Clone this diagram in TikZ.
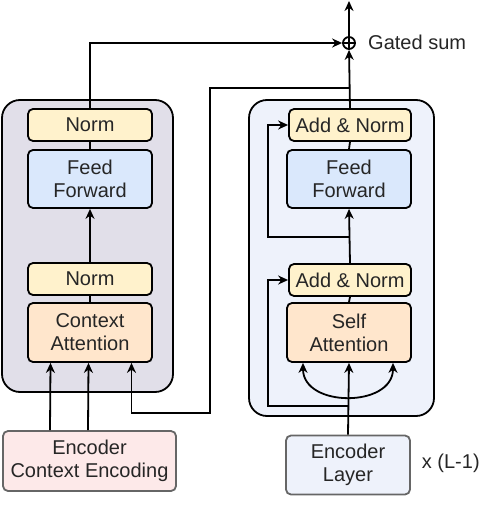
\documentclass[tikz,border=0pt]{standalone}
\usepackage{fontspec}
\setmainfont{Liberation Sans}
\usetikzlibrary{arrows.meta}
\definecolor{normfill}{HTML}{FFF2CC}
\definecolor{fffill}{HTML}{DAE8FC}
\definecolor{attfill}{HTML}{FFE6CC}
\definecolor{decbg}{HTML}{E1DFE9}
\definecolor{encbg}{HTML}{EEF2FB}
\definecolor{ctxfill}{HTML}{FDE9E9}

\begin{document}
\begin{tikzpicture}[x=1pt, y=-1pt, line width=1.8pt,
  every node/.style={font=\fontsize{20}{23}\selectfont, text=black!85},
  block/.style={draw, rounded corners=5pt, align=center, inner sep=0pt, minimum width=124pt},
  normbox/.style={block, fill=normfill, minimum height=32pt},
  ffbox/.style={block, fill=fffill, minimum height=58pt},
  attbox/.style={block, fill=attfill, minimum height=59pt},
  inbox/.style={block, draw=black!60, minimum height=59pt},
  layerbg/.style={draw, rounded corners=18pt},
  tip/.tip={Stealth[length=10pt,width=9pt]},
  arr/.style={-tip}]
  \useasboundingbox (0,0) rectangle (482,526);
  \draw[layerbg, fill=decbg] (2,100) rectangle (173,392);
  \draw[layerbg, fill=encbg] (249,100) rectangle (434,416);

  \node[normbox] (lnorm) at (90,125) {Norm};
  \node[ffbox] (lff) at (90,179) {Feed\\Forward};
  \node[normbox] (lnorm2) at (90,279) {Norm};
  \node[attbox] (lca) at (90,332.5) {Context\\Attention};
  \node[inbox, fill=ctxfill, minimum width=173pt, minimum height=60pt] (ctx) at (89.5,461) {Encoder\\Context Encoding};

  \node[normbox, minimum width=122pt] (rnorm) at (350,125) {Add \& Norm};
  \node[ffbox] (rff) at (349,179) {Feed\\Forward};
  \node[normbox, minimum width=122pt] (rnorm2) at (350,280) {Add \& Norm};
  \node[attbox] (rsa) at (349,332.5) {Self\\Attention};
  \node[inbox, fill=encbg] (enc) at (348,465) {Encoder\\Layer};
  \node[anchor=west, inner sep=0pt] (times) at (421,463) {x (L-1)};

  \node[circle, draw, inner sep=0pt, minimum size=12pt] (sum) at (349,43) {};
  \draw (sum.north) -- (sum.south) (sum.west) -- (sum.east);
  \node[anchor=west] (sumlabel) at (364,42) {Gated sum};
  \coordinate (top) at (349,1);
  \coordinate (split) at (349,88);
  \coordinate (res1) at (349,237);
  \coordinate (res2) at (349,406);

  \draw (lff.north) -- (lnorm.south);
  \draw[arr] (lnorm2.north) -- (lff.south);
  \draw (lca.north) -- (lnorm2.south);
  \draw[arr] ([xshift=-39.5pt]ctx.north) -- ([xshift=-39.5pt]lca.south);
  \draw[arr] ([xshift=-1.5pt]ctx.north) -- ([xshift=-1.5pt]lca.south);
  \draw[arr] (lnorm.north) |- (sum.west);

  \draw (rff.north) -- (rnorm.south);
  \draw[arr] (rnorm2.north) -- (rff.south);
  \draw (rsa.north) -- (rnorm2.south);
  \draw[arr] (enc.north) -- (rsa.south);
  \draw[arr] (res1) -| ([xshift=-20pt]rnorm.west) -- (rnorm.west);
  \draw[arr] (res2) -| ([xshift=-20pt]rnorm2.west) -- (rnorm2.west);
  \draw[arr] (rnorm.north) -- (sum.south);
  \draw[arr] (sum.north) -- (top);
  \draw[arr] (split) -| (210,413) -| ([xshift=41.5pt]lca.south);
  \draw[tip-tip] ([xshift=-46pt]rsa.south) .. controls +(0,45) and +(0,45) .. ([xshift=44pt]rsa.south);
\end{tikzpicture}
\end{document}
